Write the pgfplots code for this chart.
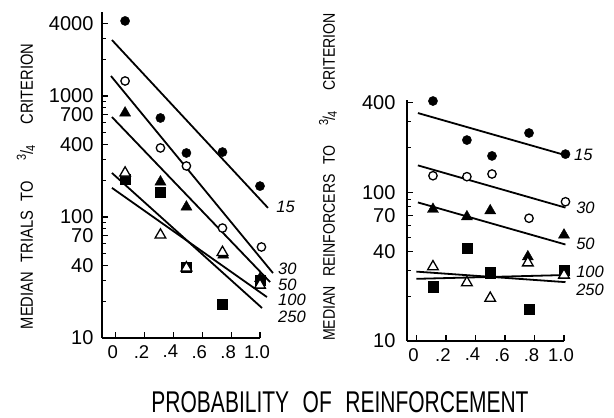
\documentclass[border=0pt]{standalone}
\usepackage{fontspec}
\setmainfont{Liberation Sans}
\newfontfamily\condfont{Liberation Sans}[FakeStretch=0.84]
\newfontfamily\widecond{Liberation Sans}[FakeStretch=0.70]
\usepackage{pgfplots}
\pgfplotsset{compat=1.18}

\pgfplotsset{
  mkfc/.style={only marks,mark=*,mark size=4.6pt,black},
  mkoc/.style={only marks,mark=*,mark size=4.2pt,black,mark options={fill=white,line width=1.3pt}},
  mkft/.style={only marks,mark=triangle*,mark size=6.4pt,black},
  mkot/.style={only marks,mark=triangle*,mark size=6.2pt,black,mark options={fill=white,line width=1.3pt}},
  mkfs/.style={only marks,mark=square*,mark size=5.2pt,black},
  fitline/.style={no marks,line width=1.8pt,black},
}
\tikzset{linelab/.style={anchor=west,inner sep=1pt,font=\itshape\fontsize{16.5}{18}\selectfont}}
\newcommand{\threequarter}{{\raisebox{0.4em}{\fontsize{13}{14}\selectfont 3}\kern-0.05em/\kern-0.05em\raisebox{-0.12em}{\fontsize{13}{14}\selectfont 4}}}
\newcommand{\gap}{\hspace{0.55em}}
\newcommand{\wgap}{\hspace{1.2em}}

\begin{document}
\begin{tikzpicture}
\useasboundingbox (0,0) rectangle (614pt,418pt);

% left panel: trials
\begin{axis}[
  ymode=log,
  scale only axis, clip=false,
  at={(102pt,80pt)}, anchor=south west,
  width=158pt, height=326pt,
  axis x line*=bottom, axis y line*=left,
  axis line style={line width=1.6pt,-},
  tick style={line width=1.1pt,black},
  major tick length=6pt, minor tick length=4pt,
  xmin=-0.095, xmax=1.0, ymin=10, ymax=4943,
  xtick={0,0.2,0.4,0.6,0.8,1.0},
  xticklabels={0,.2,.4,.6,.8,1.0},
  ytick={10,40,70,100,400,700,1000,4000},
  yticklabels={10,40,70,100,400,700,1000,4000},
  minor ytick={20,30,50,60,80,90,200,300,500,600,800,900,2000,3000},
  xticklabel style={font=\fontsize{18.5}{20}\selectfont,inner ysep=1pt,yshift=-6pt,xshift=-3pt},
  yticklabel style={font=\fontsize{20}{22}\selectfont,inner ysep=0pt,xshift=-5pt},
  ylabel={MEDIAN\gap TRIALS\gap TO\wgap\threequarter\wgap CRITERION},
  ylabel style={font=\condfont\fontsize{17.5}{19}\selectfont,anchor=center,at={(axis description cs:-0.481,0.465)}},
]
\addplot[fitline] coordinates {(-0.026,2900) (1.055,119)};
\addplot[fitline] coordinates {(-0.033,1463) (1.09,34.4)};
\addplot[fitline] coordinates {(-0.026,670) (1.07,29)};
\addplot[fitline] coordinates {(-0.026,231) (1.014,17.7)};
\addplot[fitline] coordinates {(-0.026,174) (1.048,21.8)};
\addplot[mkfs] coordinates {(0.065,206) (0.31,161) (0.49,38.6) (0.74,19.1) (1.0,30)};
\addplot[mkft] coordinates {(0.065,724) (0.31,195) (0.49,121) (0.745,48.5) (1.0,31)};
\addplot[mkot] coordinates {(0.065,231) (0.31,71) (0.49,38) (0.74,51) (1.0,27.4)};
\addplot[mkoc] coordinates {(0.065,1330) (0.31,372) (0.49,264) (0.74,81) (1.01,56.5)};
\addplot[mkfc] coordinates {(0.065,4170) (0.31,658) (0.49,338) (0.74,344) (1.0,180)};
\node[linelab] at (axis cs:1.105,121) {15};
\node[linelab] at (axis cs:1.118,37.2) {30};
\node[linelab] at (axis cs:1.118,27.4) {50};
\node[linelab] at (axis cs:1.118,20.6) {100};
\node[linelab] at (axis cs:1.118,15.1) {250};
\end{axis}

% right panel: reinforcers
\begin{axis}[
  ymode=log,
  scale only axis, clip=false,
  at={(407pt,77pt)}, anchor=south west,
  width=157pt, height=241pt,
  axis x line*=bottom, axis y line*=left,
  axis line style={line width=1.6pt,-},
  tick style={line width=1.1pt,black},
  major tick length=6pt, minor tick length=4pt,
  xmin=-0.064, xmax=1.0, ymin=10, ymax=418.7,
  xtick={0,0.2,0.4,0.6,0.8,1.0},
  xticklabels={0,.2,.4,.6,.8,1.0},
  ytick={10,40,70,100,400},
  yticklabels={10,40,70,100,400},
  minor ytick={20,30,50,60,80,90,200,300},
  xticklabel style={font=\fontsize{18.5}{20}\selectfont,inner ysep=1pt,yshift=-6pt,xshift=-3pt},
  yticklabel style={font=\fontsize{20}{22}\selectfont,inner ysep=0pt,xshift=-8pt},
  ylabel={MEDIAN\gap REINFORCERS\gap TO\wgap\threequarter\wgap CRITERION},
  ylabel style={font=\condfont\fontsize{16.8}{18}\selectfont,anchor=center,at={(axis description cs:-0.503,0.68)}},
]
\addplot[fitline] coordinates {(0.01,342) (1.01,178)};
\addplot[fitline] coordinates {(0.01,152) (1.01,79)};
\addplot[fitline] coordinates {(0.01,85.6) (1.01,44.6)};
\addplot[fitline] coordinates {(0.0,29.3) (1.01,24.9)};
\addplot[fitline] coordinates {(0.0,26.2) (1.01,27.8)};
\addplot[mkfs] coordinates {(0.112,23.2) (0.342,42) (0.5,28.8) (0.763,16.3) (1.0,30)};
\addplot[mkft] coordinates {(0.112,77) (0.342,68.6) (0.5,75.3) (0.755,36.9) (1.0,51.7)};
\addplot[mkot] coordinates {(0.112,31.6) (0.342,24.7) (0.5,19.4) (0.755,33.6) (1.0,27.8)};
\addplot[mkoc] coordinates {(0.112,129.5) (0.342,127.6) (0.512,133) (0.763,67) (1.01,86.5)};
\addplot[mkfc] coordinates {(0.112,412) (0.342,225) (0.512,176) (0.763,251) (1.01,181)};
\node[linelab] at (axis cs:1.061,179) {15};
\node[linelab] at (axis cs:1.075,78.2) {30};
\node[linelab] at (axis cs:1.075,45.4) {50};
\node[linelab] at (axis cs:1.075,29.1) {100};
\node[linelab] at (axis cs:1.075,22.0) {250};
\end{axis}

\node[font=\widecond\fontsize{30}{32}\selectfont,inner sep=0pt] at (340pt,16pt)
  {PROBABILITY\hspace{0.45em}OF\hspace{0.45em}REINFORCEMENT};
\end{tikzpicture}
\end{document}
